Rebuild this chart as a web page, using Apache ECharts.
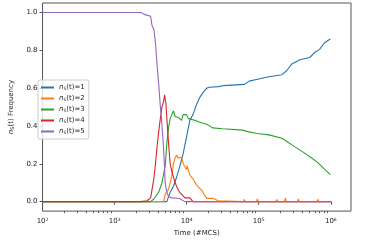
<!DOCTYPE html>
<html><head><meta charset="utf-8">
<script src="https://cdn.jsdelivr.net/npm/echarts@6/dist/echarts.min.js"></script>
<style>html,body{margin:0;padding:0;background:#fff}#c{width:368px;height:242px}</style>
</head><body><div id="c"></div>
<script>
// tick values
const xTicks = [100, 1000, 10000, 100000, 1000000];
const xTickExp = ['2', '3', '4', '5', '6'];
const yTicks = [0, 0.2, 0.4, 0.6, 0.8, 1.0];
const seriesLabels = ['1', '2', '3', '4', '5'];
const colors = ['#1f77b4', '#ff7f0e', '#2ca02c', '#d62728', '#9467bd'];

// n_S(t)=1
const t1 = [100, 5309, 5902, 6546, 7261, 8072, 8954, 9931, 11066, 12246, 13583, 15136, 16749, 19011, 20701, 27416, 32063, 63096, 73790, 95940, 138038, 209894, 245471, 287740, 372392, 509331, 597035, 698232, 816582, 984011];
const v1 = [0, 0, 0.05, 0.08, 0.13, 0.19, 0.255, 0.34, 0.43, 0.46, 0.51, 0.55, 0.575, 0.60, 0.605, 0.608, 0.613, 0.62, 0.637, 0.647, 0.66, 0.671, 0.693, 0.728, 0.75, 0.762, 0.788, 0.805, 0.84, 0.86];
// n_S(t)=2
const t2 = [100, 4786, 5047, 5598, 6209, 6546, 6902, 7261, 7656, 8072, 8492, 8954, 9931, 10162, 11066, 12246, 13583, 15136, 16255, 17298, 19011, 23442, 27416, 28576,
  61200, 63096, 65000, 75300, 77625, 79950, 92600, 95499, 98400, 122100, 125893, 129700, 172500, 177828, 183200,
  227400, 234423, 241500, 344200, 354813, 365500, 520900, 537032, 553100, 640900, 660693, 680500, 884700, 912011, 939400, 1000000];
const v2 = [0, 0, 0.04, 0.066, 0.134, 0.20, 0.23, 0.246, 0.23, 0.22, 0.235, 0.20, 0.17, 0.19, 0.14, 0.12, 0.09, 0.07, 0.06, 0.04, 0.017, 0.017, 0.005, 0,
  0, 0.012, 0, 0, 0.01, 0, 0, 0.015, 0, 0, 0.01, 0, 0, 0.012, 0,
  0, 0.02, 0, 0, 0.015, 0, 0, 0.01, 0, 0, 0.012, 0, 0, 0.01, 0, 0];
// n_S(t)=3
const t3 = [100, 3162, 3499, 4093, 4539, 5047, 5309, 5598, 5902, 6223, 6546, 6902, 7261, 7656, 8072, 8492, 8954, 9441, 9954, 10471, 11641, 12942, 15136, 18621, 22909, 31623, 59980, 70146, 95940, 138038, 209894, 245471, 287740, 393550, 537032, 660693, 814704, 984011];
const v3 = [0, 0, 0.014, 0.05, 0.10, 0.19, 0.31, 0.39, 0.44, 0.46, 0.48, 0.45, 0.44, 0.445, 0.435, 0.43, 0.46, 0.47, 0.46, 0.44, 0.435, 0.43, 0.42, 0.41, 0.39, 0.385, 0.378, 0.37, 0.36, 0.353, 0.335, 0.318, 0.30, 0.267, 0.232, 0.206, 0.172, 0.143];
// n_S(t)=4
const t4 = [100, 2291, 2818, 3162, 3311, 3499, 3690, 3882, 4093, 4315, 4539, 4786, 4943, 5047, 5152, 5309, 5598, 5902, 6310, 6546, 6918, 7261, 7943, 8492, 9462, 11066, 12246, 1000000];
const v4 = [0, 0, 0.005, 0.02, 0.015, 0.12, 0.2, 0.29, 0.37, 0.44, 0.50, 0.53, 0.565, 0.54, 0.52, 0.44, 0.31, 0.20, 0.15, 0.13, 0.10, 0.08, 0.05, 0.04, 0.02, 0.02, 0, 0];
// n_S(t)=5
const t5 = [100, 2328, 2570, 3162, 3311, 3508, 3690, 3890, 4093, 4315, 4467, 4786, 5047, 5309, 5623, 6310, 7943, 8511, 9441, 1000000];
const v5 = [1, 1, 0.99, 0.98, 0.93, 0.91, 0.84, 0.72, 0.62, 0.50, 0.44, 0.28, 0.095, 0.05, 0.026, 0.02, 0.017, 0.01, 0, 0];

const allT = [t1, t2, t3, t4, t5];
const allV = [v1, v2, v3, v4, v5];

const minorTicks = [];
for (let k = 2; k <= 5; k++) for (let m = 2; m <= 9; m++) minorTicks.push(m * Math.pow(10, k));

const FONT = 'DejaVu Sans';
const xMax = Math.pow(10, 6.28);

const chart = echarts.init(document.getElementById('c'), null, {renderer: 'canvas'});
const series = seriesLabels.map((s, i) => ({
  name: 'n_S(t)=' + s,
  type: 'line',
  xAxisIndex: 0,
  showSymbol: false,
  symbol: 'none',
  animation: false,
  data: allT[i].map((t, j) => [t, allV[i][j]]),
  lineStyle: {width: 1.1, color: colors[i]},
  itemStyle: {color: colors[i]}
}));

chart.setOption({
  animation: false,
  textStyle: {fontFamily: FONT},
  grid: {left: 36, right: 17, top: 3, bottom: 27, show: true, borderColor: '#555', borderWidth: 1},
  legend: {
    orient: 'vertical', left: 38, top: 80,
    itemWidth: 13, itemHeight: 2, itemGap: 2,
    icon: 'rect',
    padding: [3, 4, 3, 3],
    borderColor: '#ccc', borderWidth: 1, borderRadius: 2,
    backgroundColor: 'rgba(255,255,255,0.8)',
    data: seriesLabels.map(s => 'n_S(t)=' + s),
    formatter: name => '{i|n}{s|S}{r|' + name.slice(3) + '}',
    textStyle: {
      fontFamily: FONT, fontSize: 7, color: '#222', lineHeight: 9,
      rich: {
        i: {fontStyle: 'italic', fontSize: 7, fontFamily: FONT, lineHeight: 9},
        s: {fontSize: 4.5, fontFamily: FONT, padding: [3, 0, 0, 0], lineHeight: 9},
        r: {fontSize: 7, fontFamily: FONT, lineHeight: 9}
      }
    }
  },
  xAxis: [{
    type: 'log', logBase: 10, min: 100, max: xMax,
    name: 'Time (#MCS)', nameLocation: 'middle', nameGap: 18,
    nameTextStyle: {fontFamily: FONT, fontSize: 7, color: '#222'},
    axisLine: {show: false},
    splitLine: {show: false},
    axisTick: {show: true, length: 3, customValues: xTicks, lineStyle: {color: '#555'}},
    axisLabel: {
      customValues: xTicks, margin: 6, color: '#222', fontSize: 7, fontFamily: FONT,
      formatter: v => '10{p|' + xTickExp[Math.round(Math.log10(v)) - 2] + '}',
      rich: {p: {fontSize: 4.5, fontFamily: FONT, padding: [0, 0, 4, 0]}}
    }
  }, {
    type: 'log', logBase: 10, min: 100, max: xMax, position: 'bottom',
    axisLine: {show: false}, splitLine: {show: false},
    axisLabel: {show: false},
    axisTick: {show: true, length: 2, customValues: minorTicks, lineStyle: {color: '#555'}}
  }],
  yAxis: {
    type: 'value', min: -0.05, max: 1.05,
    name: '{i|n}{s|S}(t) Frequency', nameLocation: 'middle', nameGap: 22, nameRotate: 90,
    nameTextStyle: {
      fontFamily: FONT, fontSize: 7, color: '#222',
      rich: {
        i: {fontStyle: 'italic', fontSize: 7, fontFamily: FONT},
        s: {fontSize: 5, fontFamily: FONT, padding: [3, 0, 0, 0]}
      }
    },
    axisLine: {show: false},
    splitLine: {show: false},
    axisTick: {show: true, length: 3, customValues: yTicks, lineStyle: {color: '#555'}},
    axisLabel: {customValues: yTicks, margin: 5, color: '#222', fontSize: 7, fontFamily: FONT,
      formatter: v => v.toFixed(1)}
  },
  series: series
});
</script></body></html>
